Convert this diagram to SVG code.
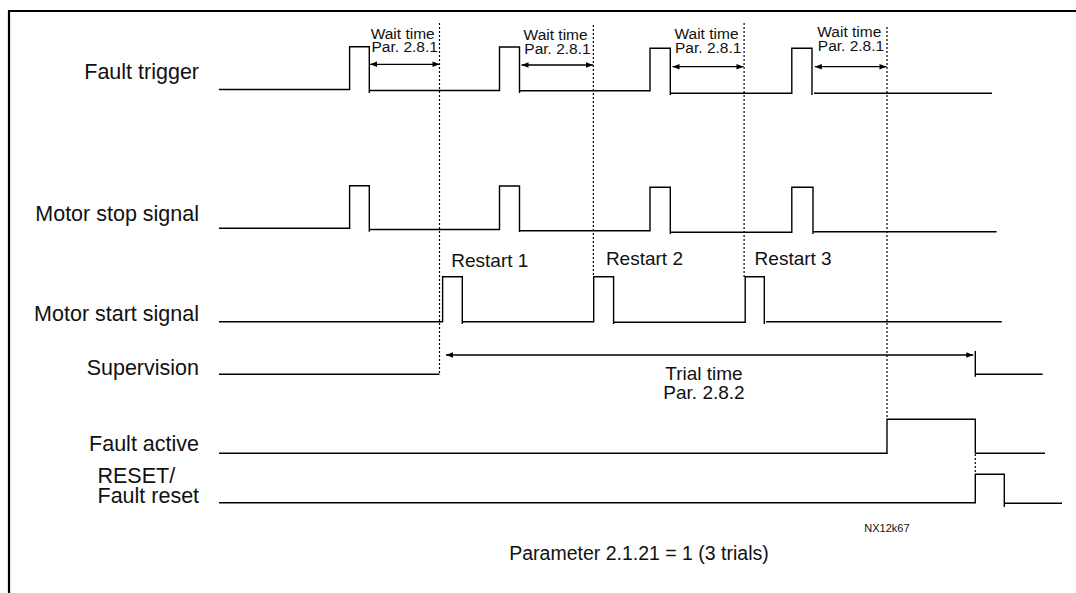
<svg xmlns="http://www.w3.org/2000/svg" width="1076" height="593" viewBox="0 0 1076 593">
<style>
  .sig{fill:none;stroke:#000;stroke-width:1.4;stroke-linejoin:miter}
  .dot{fill:none;stroke:#000;stroke-width:1.2;stroke-dasharray:2 2}
  .arr{fill:none;stroke:#000;stroke-width:1.3;marker-start:url(#ah);marker-end:url(#ah)}
  .lbl{font-family:"Liberation Sans",Arial,sans-serif;font-size:21.5px;fill:#111}
  .rs{font-family:"Liberation Sans",Arial,sans-serif;font-size:19px;fill:#111}
  .wt{font-family:"Liberation Sans",Arial,sans-serif;font-size:15.5px;fill:#111}
  .sm{font-family:"Liberation Sans",Arial,sans-serif;font-size:11px;fill:#111}
</style>
<defs>
  <marker id="ah" viewBox="0 0 10 10" refX="10" refY="5" markerWidth="8" markerHeight="7" markerUnits="userSpaceOnUse" orient="auto-start-reverse">
    <path d="M0,1 L10,5 L0,9 Z" fill="#000"/>
  </marker>
</defs>
<rect width="1076" height="593" fill="#fff"/>
<path d="M9,593 V11 H1076" fill="none" stroke="#000" stroke-width="2.2"/>

<g id="fault-trigger">
  <text class="lbl" x="199" y="79" text-anchor="end">Fault trigger</text>
  <path class="sig" d="M219,89.5 H349.6 V46.7 H369.3 V93 M369.3,90.5 H499.5 V47 H519.5 V93 M519.5,90.7 H650 V48.3 H670.3 V95 M670.3,93.3 H791.8 V48.3 H812 V95 M814,93.3 H992"/>
</g>

<g id="motor-stop">
  <text class="lbl" x="199" y="221" text-anchor="end">Motor stop signal</text>
  <path class="sig" d="M219,228.3 H349.6 V185.7 H369.3 V231.7 M369.3,229.5 H499.5 V186 H519.5 V232 M519.5,230.7 H650 V187.3 H670.3 V234 M670.3,232.3 H791.8 V187.3 H813 V234 M813.8,231.7 H996.6"/>
</g>

<g id="motor-start">
  <text class="lbl" x="199" y="320.5" text-anchor="end">Motor start signal</text>
  <text class="rs" x="451.3" y="266.5">Restart 1</text>
  <text class="rs" x="605.9" y="264.5">Restart 2</text>
  <text class="rs" x="754.6" y="264.5">Restart 3</text>
  <path class="sig" d="M219,321.7 H442.6 V276.7 H462.3 V324 M462.3,321.7 H593.7 V276.7 H613.6 V324 M613.6,322.3 H745.2 V276.7 H764.3 V324 M766,321.7 H1001.8"/>
</g>

<g id="supervision">
  <text class="lbl" x="199" y="375" text-anchor="end">Supervision</text>
  <path class="sig" d="M219,374.3 H439.5 M975.3,351 V376.7 M975.3,374.3 H1042.7"/>
  <text class="rs" x="704" y="380" text-anchor="middle">Trial time</text>
  <text class="rs" x="704" y="399" text-anchor="middle">Par. 2.8.2</text>
</g>

<g id="fault-active">
  <text class="lbl" x="199" y="451" text-anchor="end">Fault active</text>
  <path class="sig" d="M219,453.3 H887 V419.3 H975.3 V453.3 M975.3,453.3 H1045"/>
</g>

<g id="fault-reset">
  <text class="lbl" x="97.5" y="483.3">RESET/</text>
  <text class="lbl" x="97.5" y="503.3">Fault reset</text>
  <path class="sig" d="M219,502.7 H975.3 V474.3 H1004.3 V507 M1004.3,503.3 H1062"/>
</g>

<g id="wait-labels">
  <text class="wt" x="370.7" y="39">Wait time</text>
  <text class="wt" x="371.5" y="52.3">Par. 2.8.1</text>
  <text class="wt" x="523.6" y="40">Wait time</text>
  <text class="wt" x="524.3" y="53.5">Par. 2.8.1</text>
  <text class="wt" x="674.5" y="39.3">Wait time</text>
  <text class="wt" x="675" y="53">Par. 2.8.1</text>
  <text class="wt" x="817.3" y="37.3">Wait time</text>
  <text class="wt" x="817.8" y="51.3">Par. 2.8.1</text>
</g>

<g id="connectors">
  <path class="dot" d="M439.5,23 V375"/>
  <path class="dot" d="M593.4,25 V277"/>
  <path class="dot" d="M744.1,23 V277"/>
  <path class="dot" d="M887,27 V419"/>
  <path class="dot" d="M975.3,454 V474"/>
  <path class="arr" d="M370,64.3 H439.5"/>
  <path class="arr" d="M521.5,65 H593"/>
  <path class="arr" d="M672.5,66.7 H743.5"/>
  <path class="arr" d="M814.8,66.7 H886.5"/>
  <path class="arr" d="M446,355 H973.3"/>
</g>

<text class="sm" x="864.3" y="531.5">NX12k67</text>
<text class="rs" x="639" y="560" text-anchor="middle" style="font-size:19.5px">Parameter 2.1.21 = 1 (3 trials)</text>
</svg>
